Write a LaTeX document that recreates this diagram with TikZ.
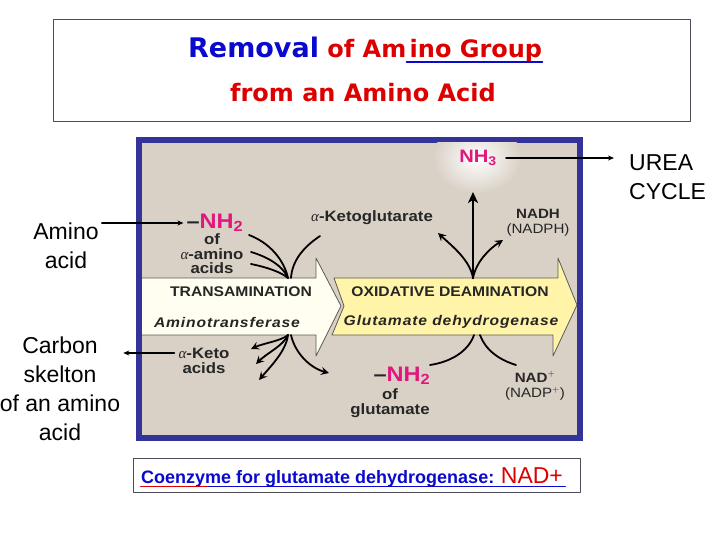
\documentclass[tikz,border=0pt]{standalone}
\usepackage{fontspec}
\setmainfont{Liberation Sans}
\newfontfamily\titlefont{DejaVu Sans}
\newfontfamily\panelfont[FakeStretch=1.12]{Liberation Sans}
\newfontfamily\capfont[FakeStretch=1.12,LetterSpace=6]{Liberation Sans}
\newfontfamily\greekfont{Liberation Serif}
\newcommand{\alphasym}{{\greekfont\mdseries\itshape α}}
\usetikzlibrary{arrows.meta,calc,positioning}
\definecolor{TitleBlue}{HTML}{0A0ACF}
\definecolor{TitleRed}{HTML}{DD0000}
\definecolor{PanelBg}{HTML}{D9D1C6}
\definecolor{PanelBlue}{HTML}{333399}
\definecolor{AminoPink}{HTML}{E0177E}
\definecolor{ArrowCream}{HTML}{FFFEF0}
\definecolor{ArrowYellow}{HTML}{FFF4A8}
\definecolor{BoxGray}{HTML}{4D4D5A}

\begin{document}
\begin{tikzpicture}[x=1pt,y=-1pt,line cap=round,line join=round,
  lbl/.style={font=\panelfont\fontsize{15}{14.5}\selectfont\bfseries,text=black!85,align=center,inner sep=1pt},
  nadlbl/.style={lbl,font=\panelfont\fontsize{13.5}{15.5}\selectfont\bfseries},
  pink/.style={font=\panelfont\fontsize{21}{23}\selectfont\bfseries,text=AminoPink,inner sep=0pt},
  arrowtext/.style={font=\panelfont\fontsize{14}{16}\selectfont\bfseries,text=black!85,inner sep=1pt},
  arrowtextit/.style={font=\capfont\fontsize{14}{16}\selectfont\bfseries\itshape,text=black!85,inner sep=1pt},
  side/.style={font=\fontsize{23}{29}\selectfont,align=center,inner sep=3pt},
  annot/.style={line width=1.3pt,-{Stealth[length=6pt,width=5pt]}},
  flow/.style={line width=1.8pt},
  flowtip/.style={flow,-{Stealth[length=8pt,width=8pt,inset=3pt]}}]
  \useasboundingbox[fill=white] (0,0) rectangle (720,540);
  % title
  \draw[BoxGray,line width=1pt] (53,20) rectangle (690,122);
  \node[anchor=base west,inner sep=0,font=\titlefont\fontsize{24}{28}\selectfont\bfseries,text=TitleRed] (ttlA) at (188,58)
    {{\color{TitleBlue}\fontsize{27}{30}\selectfont Removal} of Am};
  \node[anchor=base west,inner sep=0,font=\titlefont\fontsize{24}{28}\selectfont\bfseries,text=TitleRed] (ttlB) at (ttlA.base east) {\hspace{3pt}ino Group\hspace{8pt}};
  \draw[TitleBlue,line width=1.8pt] ($(ttlB.base west)+(0,4)$) -- ($(ttlB.base east)+(0,4)$);
  \node[anchor=base,inner sep=0,font=\titlefont\fontsize{24}{28}\selectfont\bfseries,text=TitleRed] (ttlC) at (363,102) {from an Amino Acid};
  % panel
  \fill[PanelBlue] (136,137) rectangle (583,441);
  \fill[PanelBg] (142,143) rectangle (577,435);
  \begin{scope}
    \clip (142,143) rectangle (577,435);
    \shade[inner color=white,outer color=PanelBg] (477,158) ellipse (44 and 36);
  \end{scope}
  \draw[gray!70!black,line width=.8pt,fill=ArrowCream] (142,278) -- (316,278) -- (316,258) -- (341,306)
    -- (316,356) -- (316,335) -- (142,335);
  \draw[gray!70!black,line width=.8pt,fill=ArrowYellow] (334,278) -- (558,278) -- (558,258) -- (577,305)
    -- (553,356) -- (553,335) -- (332,335) -- (344,306) -- cycle;
  \node[arrowtext] (trans) at (241,292) {TRANSAMINATION};
  \node[arrowtextit] (atf) at (227,322) {Aminotransferase};
  \node[arrowtext] (oxd) at (450,292) {OXIDATIVE DEAMINATION};
  \node[arrowtextit] (gdh) at (451,322) {Glutamate dehydrogenase};
  % labels in the panel
  \node[pink] (nhA) at (215,223) {\textcolor{black!85}{–}NH\textsubscript{2}};
  \node[lbl] (aminoacids) at (212,254) {of\\\alphasym-amino\\acids};
  \node[lbl] (akg) at (372,218) {\alphasym-Ketoglutarate};
  \node[nadlbl] (nadh) at (538,223) {NADH\\{\mdseries(NADPH)}};
  \node[pink,font=\panelfont\fontsize{18}{20}\selectfont\bfseries] (nh3) at (478,158) {NH\textsubscript{3}};
  \node[lbl] (keto) at (204,361) {\alphasym-Keto\\acids};
  \node[pink] (nhG) at (402,376) {\textcolor{black!85}{–}NH\textsubscript{2}};
  \node[lbl] (glu) at (390,403) {of\\glutamate};
  \node[nadlbl] (nad) at (535,386) {NAD$^{+}$\\{\mdseries(NADP$^{+}$)}};
  % flow curves
  \coordinate (trTop) at (288,278);
  \coordinate (trBot) at (288,335);
  \coordinate (odTop) at (473,278);
  \coordinate (odBot) at (476,335);
  \coordinate (aa1) at (249,235);
  \coordinate (aa2) at (251,252);
  \coordinate (aa3) at (251,264);
  \coordinate (kg) at (320,236);
  \coordinate (ka1) at (251,349);
  \coordinate (ka2) at (256,364);
  \coordinate (ka3) at (259,380);
  \coordinate (toGlu) at (329,373);
  \coordinate (odUp) at (473,192);
  \coordinate (odL) at (438,233);
  \coordinate (odR) at (503,240);
  \coordinate (fromGlu) at (430,365);
  \coordinate (fromNad) at (516,365);
  \draw[flow] (aa1) .. controls (270,243) and (284,260) .. (trTop);
  \draw[flow] (aa2) .. controls (268,257) and (283,266) .. (trTop);
  \draw[flow] (aa3) .. controls (266,267) and (281,272) .. (trTop);
  \draw[flow] (kg) .. controls (302,248) and (292,262) .. ([xshift=3pt]trTop);
  \draw[flowtip] (trBot) .. controls (281,341) and (264,343) .. (ka1);
  \draw[flowtip] (trBot) .. controls (283,346) and (267,353) .. (ka2);
  \draw[flowtip] (trBot) .. controls (286,351) and (271,366) .. (ka3);
  \draw[flowtip] ([xshift=3pt]trBot) .. controls (295,353) and (310,368) .. (toGlu);
  \draw[line width=2.6pt,-{Stealth[length=11pt,width=10pt,inset=3pt]}] (odTop) -- (odUp);
  \draw[flowtip] (odTop) .. controls (470,260) and (452,246) .. (odL);
  \draw[flowtip] (odTop) .. controls (476,262) and (489,249) .. (odR);
  \draw[flow] ([xshift=-2pt]odBot) .. controls (468,352) and (450,362) .. (fromGlu);
  \draw[flow] ([xshift=4pt]odBot) .. controls (486,351) and (500,360) .. (fromNad);
  % side labels
  \node[side] (aminolbl) at (66,246) {Amino\\acid};
  \node[side] (carbonlbl) at (60,389) {Carbon\\skelton\\of an amino\\acid};
  \node[side,align=left,anchor=west] (urea) at (626,177) {UREA\\CYCLE};
  \coordinate (ketoIn) at ([yshift=8pt]keto.west);
  \draw[annot,shorten >=3pt] (aminolbl.east |- nhA.west) -- (nhA.west);
  \draw[annot,shorten <=3pt] (ketoIn) -- (carbonlbl.east |- ketoIn);
  \draw[annot,shorten <=9pt,shorten >=12pt] (nh3.east) -- (urea.west |- nh3.east);
  % coenzyme note
  \draw[BoxGray,line width=.8pt] (133,458) rectangle (580,492);
  \node[anchor=base west,inner sep=0,font=\fontsize{18}{20}\selectfont\bfseries,text=TitleBlue] (coenz) at (141,483)
    {Coenzyme for glutamate dehydrogenase: {\color{TitleRed}\fontsize{23}{26}\selectfont\mdseries NAD+}};
  \draw[TitleBlue,line width=1.5pt] ($(coenz.base west)+(0,3.5)$) -- ($(coenz.base east)+(2,3.5)$);
  \draw[TitleRed,line width=1.5pt] ($(coenz.base west)+(0,3.5)$) -- ++(66,0);
\end{tikzpicture}
\end{document}
